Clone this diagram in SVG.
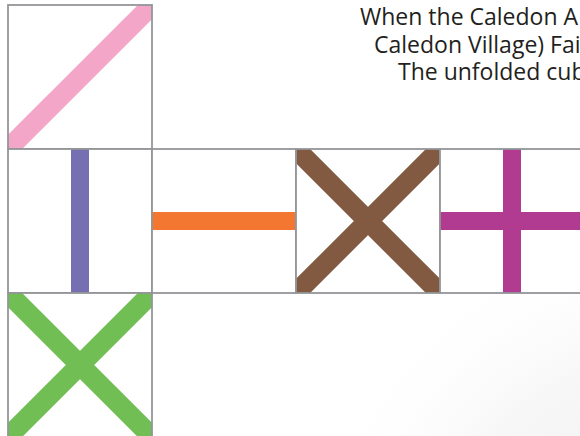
<svg xmlns="http://www.w3.org/2000/svg" width="580" height="436" viewBox="0 0 580 436">
<defs>
<style>
.face{fill:none;stroke:#939598;stroke-width:1.8}
.s{stroke-width:18;fill:none}
.d{stroke-width:20;fill:none}
.t{font-family:"Open Sans","Noto Sans",sans-serif;font-size:23px;fill:#231f20}
</style>
<radialGradient id="shade" cx="660" cy="580" r="360" gradientUnits="userSpaceOnUse">
<stop offset="0" stop-color="#eeeeee"/>
<stop offset="0.6" stop-color="#f7f7f7"/>
<stop offset="1" stop-color="#ffffff" stop-opacity="0"/>
</radialGradient>
<clipPath id="c1"><rect x="8" y="5" width="144" height="144"/></clipPath>
<clipPath id="c2"><rect x="8" y="149" width="144" height="144"/></clipPath>
<clipPath id="c3"><rect x="152" y="149" width="144" height="144"/></clipPath>
<clipPath id="c4"><rect x="296" y="149" width="144" height="144"/></clipPath>
<clipPath id="c5"><rect x="440" y="149" width="144" height="144"/></clipPath>
<clipPath id="c6"><rect x="8" y="293" width="144" height="144"/></clipPath>
</defs>
<rect width="580" height="436" fill="#ffffff"/>
<rect width="580" height="436" fill="url(#shade)"/>
<g id="caption">
<text class="t" x="360" y="25">When the Caledon A</text>
<text class="t" x="374" y="53">Caledon Village) Fai</text>
<text class="t" x="398" y="80">The unfolded cub</text>
</g>
<g id="face1">
<rect x="8" y="5" width="144" height="144" fill="#fff"/>
<g clip-path="url(#c1)"><line class="d" x1="8" y1="149" x2="152" y2="5" stroke="#f4a6c9"/></g>
<rect class="face" x="8" y="5" width="144" height="144"/>
</g>
<g id="face2">
<rect x="8" y="149" width="144" height="144" fill="#fff"/>
<g clip-path="url(#c2)"><line class="s" x1="80" y1="149" x2="80" y2="293" stroke="#7670b3"/></g>
<rect class="face" x="8" y="149" width="144" height="144"/>
</g>
<g id="face3">
<rect x="152" y="149" width="144" height="144" fill="#fff"/>
<g clip-path="url(#c3)"><line class="s" x1="152" y1="221" x2="296" y2="221" stroke="#f47731"/></g>
<rect class="face" x="152" y="149" width="144" height="144"/>
</g>
<g id="face4">
<rect x="296" y="149" width="144" height="144" fill="#fff"/>
<g clip-path="url(#c4)"><path class="d" d="M296 149L440 293M296 293L440 149" stroke="#825a41"/></g>
<rect class="face" x="296" y="149" width="144" height="144"/>
</g>
<g id="face5">
<rect x="440" y="149" width="144" height="144" fill="#fff"/>
<g clip-path="url(#c5)"><path class="s" d="M512 149V293M440 221H584" stroke="#b03b91"/></g>
<rect class="face" x="440" y="149" width="144" height="144"/>
</g>
<g id="face6">
<rect x="8" y="293" width="144" height="144" fill="#fff"/>
<g clip-path="url(#c6)"><path class="d" d="M8 293L152 437M8 437L152 293" stroke="#71bf54"/></g>
<rect class="face" x="8" y="293" width="144" height="144"/>
</g>
<g id="connectors"/>
</svg>
